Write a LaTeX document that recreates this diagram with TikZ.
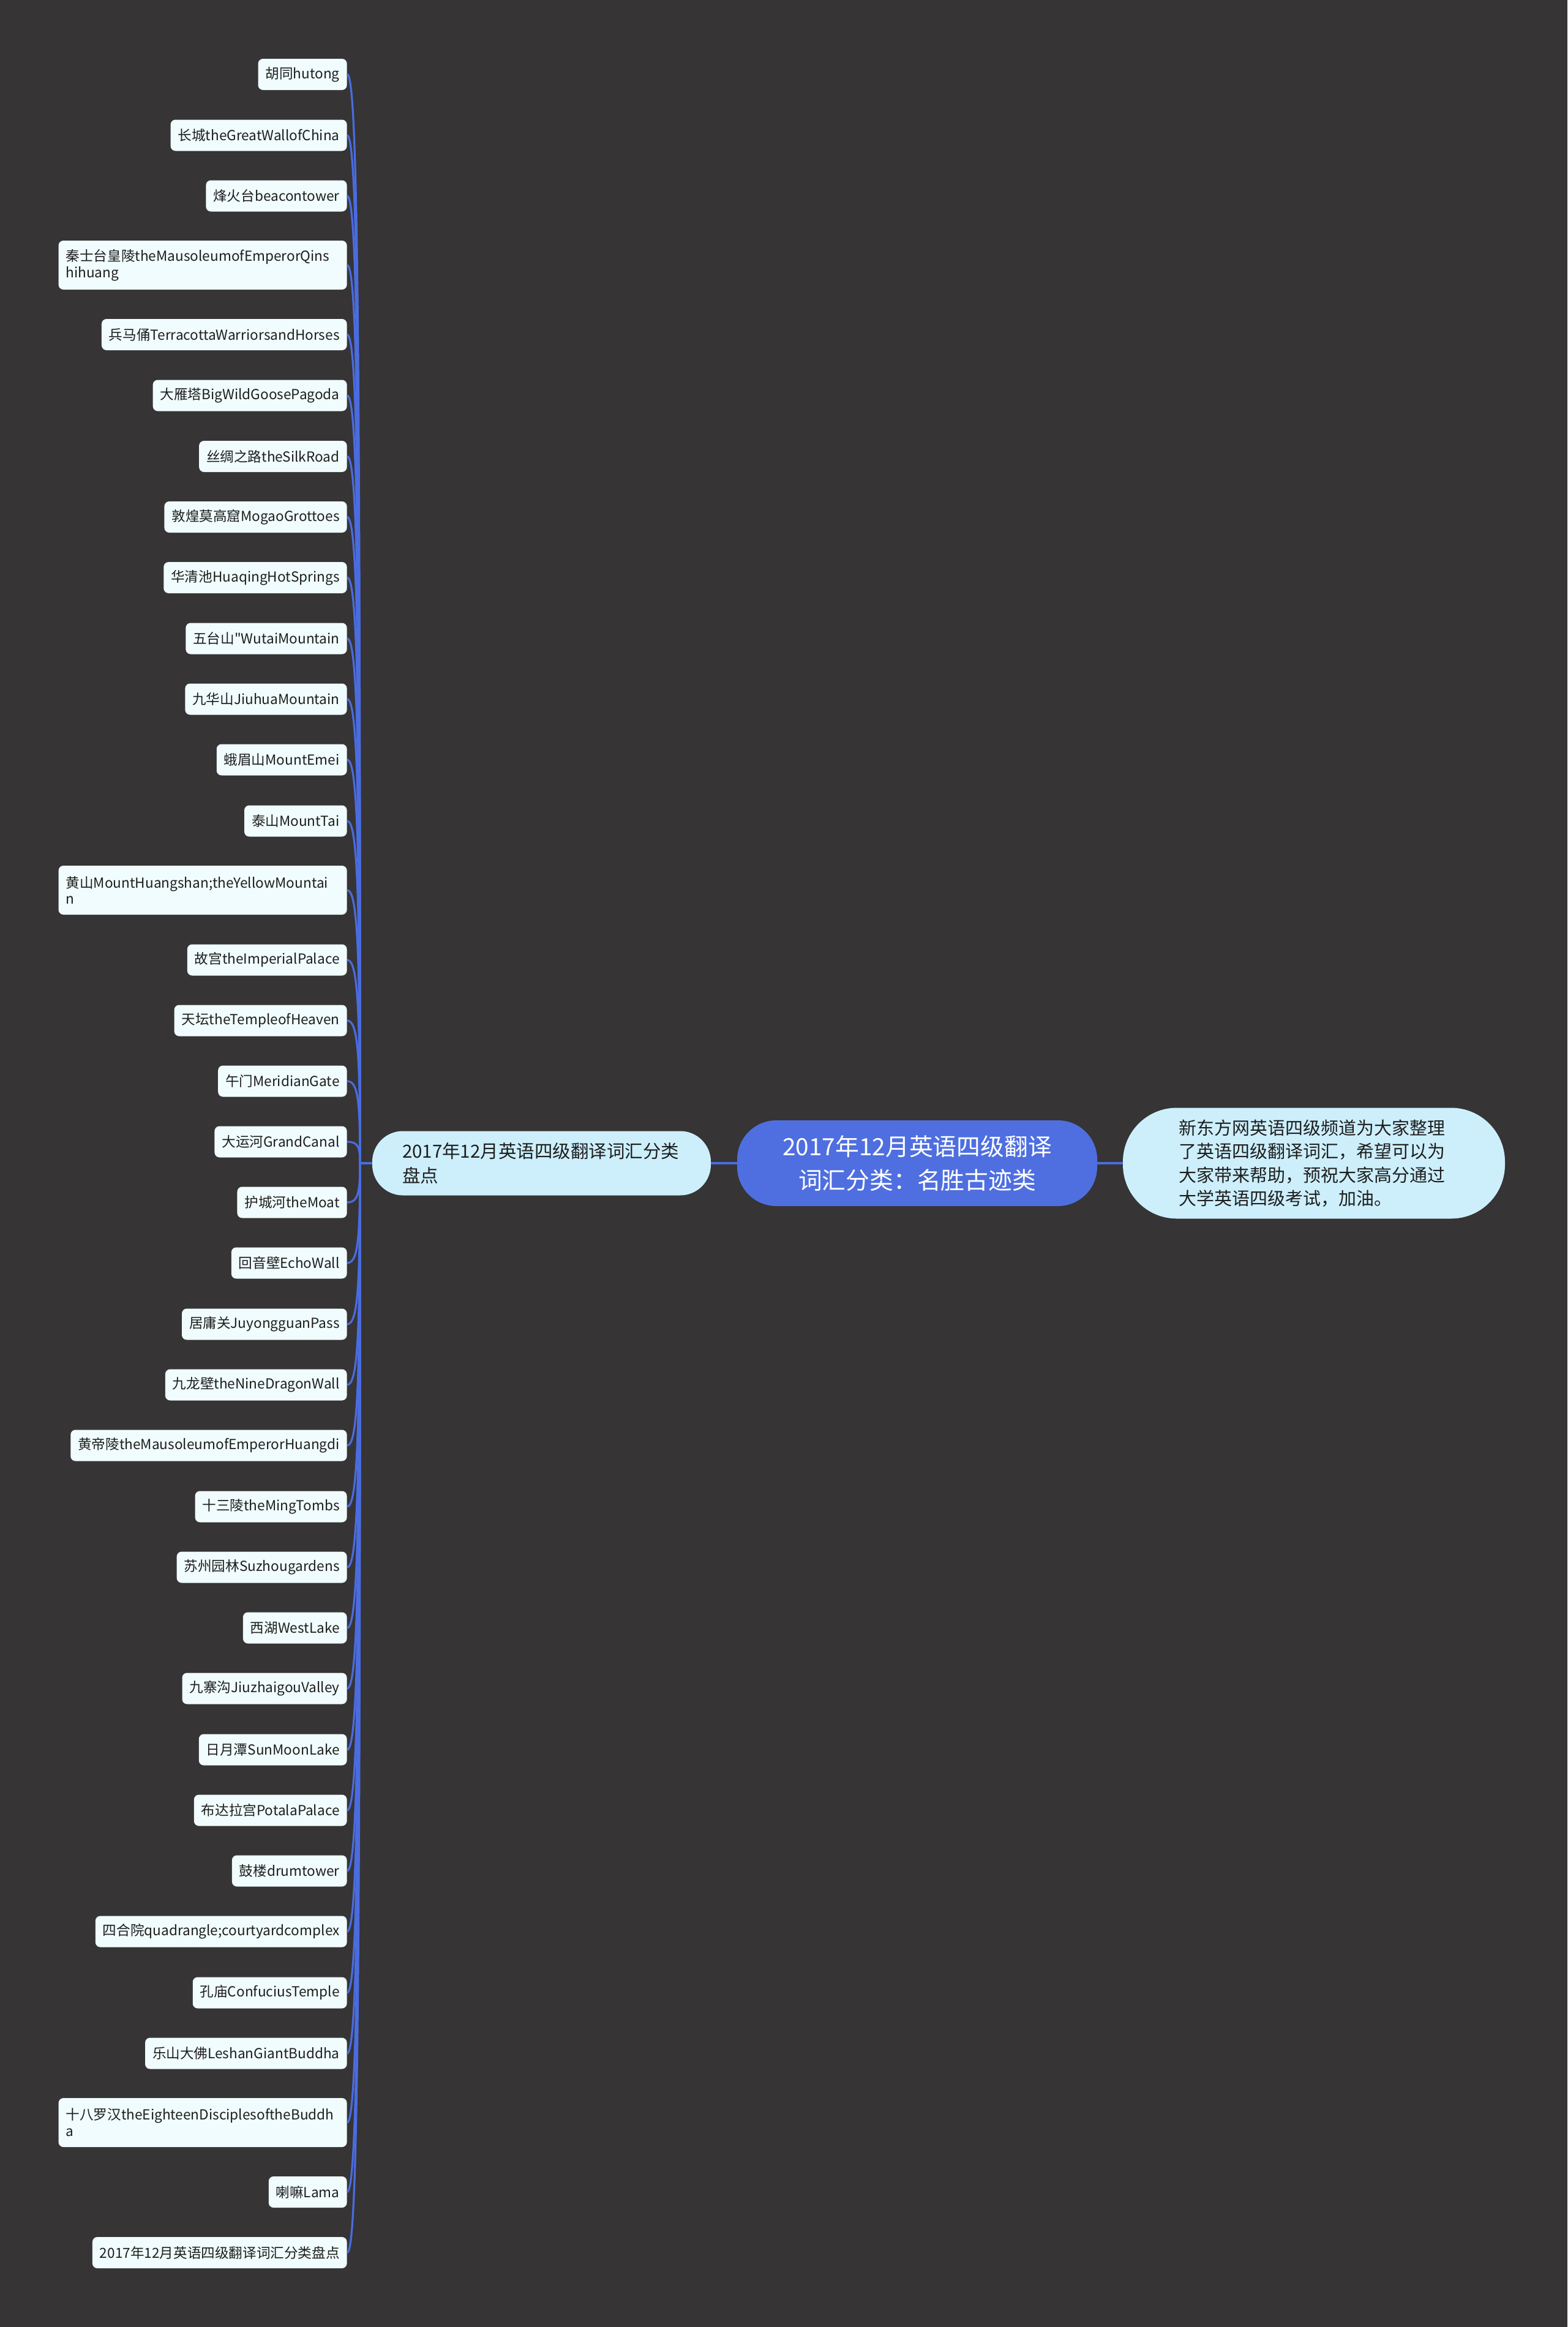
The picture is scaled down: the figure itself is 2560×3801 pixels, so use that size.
\documentclass[tikz,border=0pt]{standalone}
\usepackage{fontspec}
\setmainfont{Noto Sans CJK SC}
\newfontfamily\nomapfont{Noto Sans CJK SC}
\usetikzlibrary{calc}
\definecolor{bg}{HTML}{363435}
\definecolor{linkblue}{HTML}{4A6CDF}
\definecolor{rootblue}{HTML}{4F6FE0}
\definecolor{leaffill}{HTML}{F0FCFD}
\definecolor{subfill}{HTML}{CDEFFC}
\definecolor{txt}{HTML}{1E1E1E}
\begin{document}
\begin{tikzpicture}[x=0.5pt,y=-0.5pt,
  leaf/.style={fill=leaffill, rounded corners=4pt, anchor=east, inner xsep=6pt, inner ysep=0pt,
    minimum height=25.5pt, font=\fontsize{11.3}{13.4}\selectfont, text=txt},
  leaftwo/.style={leaf, minimum height=40pt, text width=223.5pt, align=left},
  conn/.style={draw=linkblue, line width=1.6pt},
  mainconn/.style={draw=linkblue, line width=2pt},
  rootbox/.style={fill=rootblue, text=white, rounded corners=32pt, minimum width=294pt, minimum height=70pt,
    inner sep=0pt, align=center, font=\fontsize{19.4}{27.5}\selectfont},
  subbox/.style={fill=subfill, text=txt, rounded corners=25pt, minimum height=52.5pt, inner ysep=0pt,
    inner xsep=24.5pt, text width=227.5pt, align=left, font=\fontsize{14.75}{20}\selectfont},
  descbox/.style={fill=subfill, text=txt, rounded corners=44pt, minimum height=90.5pt, inner ysep=0pt,
    inner xsep=45.5pt, text width=221pt, align=left, font=\fontsize{14.5}{19.25}\selectfont}]
\fill[bg] (0,0) rectangle (2560,3801);
\useasboundingbox (0,0) rectangle (2560,3801);

\node[rootbox] (root) at (1498,1900) {2017年12月英语四级翻译\\词汇分类：名胜古迹类};
\node[subbox] (mid) at (884.5,1900) {2017年12月英语四级翻译词汇分类\\盘点};
\node[descbox] (desc) at (2146,1900) {新东方网英语四级频道为大家整理\\了英语四级翻译词汇，希望可以为\\大家带来帮助，预祝大家高分通过\\大学英语四级考试，加油。};
\coordinate (hub) at (588,1900);

\node[leaf] (l1) at (567,121.5) {胡同hutong};
\node[leaf] (l2) at (567,221) {长城theGreatWallofChina};
\node[leaf] (l3) at (567,320) {烽火台beacontower};
\node[leaftwo] (l4) at (567,433) {秦士台皇陵theMausoleumofEmperorQins\\hihuang};
\node[leaf] (l5) at (567,546.5) {兵马俑TerracottaWarriorsandHorses};
\node[leaf] (l6) at (567,646) {大雁塔BigWildGoosePagoda};
\node[leaf] (l7) at (567,745.5) {丝绸之路theSilkRoad};
\node[leaf] (l8) at (567,844.5) {敦煌莫高窟MogaoGrottoes};
\node[leaf] (l9) at (567,943.5) {华清池HuaqingHotSprings};
\node[leaf] (l10) at (567,1043) {五台山{\nomapfont"}WutaiMountain};
\node[leaf] (l11) at (567,1142) {九华山JiuhuaMountain};
\node[leaf] (l12) at (567,1241) {蛾眉山MountEmei};
\node[leaf] (l13) at (567,1341) {泰山MountTai};
\node[leaftwo] (l14) at (567,1454) {黄山MountHuangshan;theYellowMountai\\n};
\node[leaf] (l15) at (567,1568) {故宫theImperialPalace};
\node[leaf] (l16) at (567,1667) {天坛theTempleofHeaven};
\node[leaf] (l17) at (567,1766) {午门MeridianGate};
\node[leaf] (l18) at (567,1865) {大运河GrandCanal};
\node[leaf] (l19) at (567,1964) {护城河theMoat};
\node[leaf] (l20) at (567,2063) {回音壁EchoWall};
\node[leaf] (l21) at (567,2163) {居庸关JuyongguanPass};
\node[leaf] (l22) at (567,2262) {九龙壁theNineDragonWall};
\node[leaf] (l23) at (567,2361) {黄帝陵theMausoleumofEmperorHuangdi};
\node[leaf] (l24) at (567,2461) {十三陵theMingTombs};
\node[leaf] (l25) at (567,2560) {苏州园林Suzhougardens};
\node[leaf] (l26) at (567,2659) {西湖WestLake};
\node[leaf] (l27) at (567,2758) {九寨沟JiuzhaigouValley};
\node[leaf] (l28) at (567,2858) {日月潭SunMoonLake};
\node[leaf] (l29) at (567,2957) {布达拉宫PotalaPalace};
\node[leaf] (l30) at (567,3056) {鼓楼drumtower};
\node[leaf] (l31) at (567,3155) {四合院quadrangle;courtyardcomplex};
\node[leaf] (l32) at (567,3255) {孔庙ConfuciusTemple};
\node[leaf] (l33) at (567,3354) {乐山大佛LeshanGiantBuddha};
\node[leaftwo] (l34) at (567,3467) {十八罗汉theEighteenDisciplesoftheBuddh\\a};
\node[leaf] (l35) at (567,3580.5) {喇嘛Lama};
\node[leaf] (l36) at (567,3679.5) {2017年12月英语四级翻译词汇分类盘点};

\foreach \n/\yy in {l1/121.5,l2/221,l3/320,l4/433,l5/546.5,l6/646,l7/745.5,l8/844.5,l9/943.5,
  l10/1043,l11/1142,l12/1241,l13/1341,l14/1454,l15/1568,l16/1667,l17/1766,l18/1865,l19/1964,
  l20/2063,l21/2163,l22/2262,l23/2361,l24/2461,l25/2560,l26/2659,l27/2758,l28/2858,l29/2957,
  l30/3056,l31/3155,l32/3255,l33/3354,l34/3467,l35/3580.5,l36/3679.5}
  \draw[conn] (\n.east) .. controls +(18,0) and +(0,{0.75*(\yy-1900)}) .. (hub);

\draw[mainconn] (hub) -- (mid.west);
\draw[mainconn] (mid.east) -- (root.west);
\draw[mainconn] (root.east) -- (desc.west);
\end{tikzpicture}
\end{document}
